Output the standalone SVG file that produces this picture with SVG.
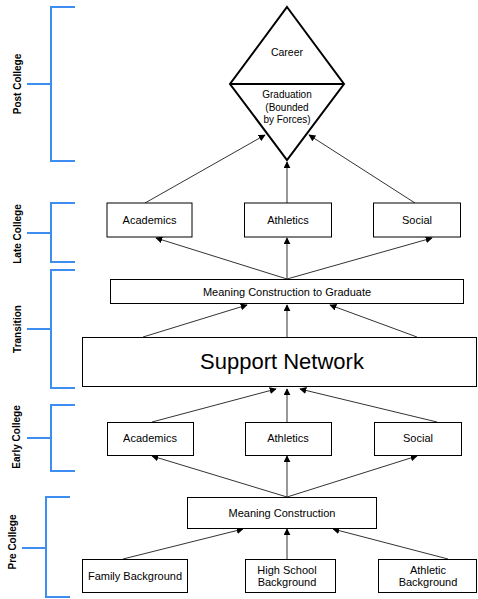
<svg xmlns="http://www.w3.org/2000/svg" width="478" height="599" viewBox="0 0 478 599">
<style>
.box{fill:#fff;stroke:#000;stroke-width:1}
.t{font-family:"Liberation Sans",Arial,sans-serif;font-size:11px;fill:#000;text-anchor:middle}
.br{fill:none;stroke:#3d8ef0;stroke-width:2}
.lbl{font-family:"Liberation Sans",Arial,sans-serif;font-size:10px;font-weight:bold;fill:#000;text-anchor:middle}
.c{stroke:#333;stroke-width:1;fill:none;marker-end:url(#ah)}
</style>
<defs>
<marker id="ah" viewBox="0 0 10 10" refX="9" refY="5" markerWidth="7" markerHeight="7" markerUnits="userSpaceOnUse" orient="auto">
<path d="M0,0 L10,5 L0,10 z" fill="#000"/>
</marker>
</defs>
<rect width="478" height="599" fill="#fff"/>
<g id="brackets">
<path class="br" d="M75,7 H51 V161 H75 M27,84 H51"/>
<path class="br" d="M75,203 H51 V262 H75 M27,233 H51"/>
<path class="br" d="M75,270 H51 V388 H75 M27,329 H51"/>
<path class="br" d="M75,405 H51 V471 H75 M27,438 H51"/>
<path class="br" d="M70,497 H46 V597 H70 M22,548 H46"/>
<text class="lbl" transform="translate(21,84) rotate(-90)">Post College</text>
<text class="lbl" transform="translate(21,234) rotate(-90)">Late College</text>
<text class="lbl" transform="translate(21,329) rotate(-90)">Transition</text>
<text class="lbl" transform="translate(20,437) rotate(-90)">Early College</text>
<text class="lbl" transform="translate(16,542) rotate(-90)">Pre College</text>
</g>
<g id="connectors">
<line class="c" x1="145" y1="203" x2="265" y2="135"/>
<line class="c" x1="287" y1="203" x2="287" y2="162"/>
<line class="c" x1="415" y1="203" x2="309" y2="135"/>
<line class="c" x1="287" y1="279" x2="156" y2="238"/>
<line class="c" x1="287" y1="279" x2="287" y2="238"/>
<line class="c" x1="287" y1="279" x2="432" y2="238"/>
<line class="c" x1="143" y1="337" x2="247" y2="305"/>
<line class="c" x1="287" y1="337" x2="287" y2="305"/>
<line class="c" x1="417" y1="337" x2="330" y2="305"/>
<line class="c" x1="152" y1="422" x2="276" y2="389"/>
<line class="c" x1="287" y1="422" x2="287" y2="389"/>
<line class="c" x1="437" y1="422" x2="300" y2="389"/>
<line class="c" x1="287" y1="497" x2="152" y2="456"/>
<line class="c" x1="287" y1="497" x2="287" y2="456"/>
<line class="c" x1="287" y1="497" x2="417" y2="456"/>
<line class="c" x1="123" y1="559" x2="243" y2="529"/>
<line class="c" x1="287" y1="559" x2="287" y2="529"/>
<line class="c" x1="448" y1="559" x2="333" y2="529"/>
</g>
<g id="diamond">
<path d="M287,7 L344,84 L287,160 L230,84 Z" fill="#fff" stroke="#000" stroke-width="2" stroke-linejoin="miter"/>
<line x1="230" y1="84" x2="344" y2="84" stroke="#000" stroke-width="2"/>
<text class="t" x="287" y="56" style="font-size:10.5px">Career</text>
<text class="t" x="287" y="98" style="font-size:10px">Graduation</text>
<text class="t" x="287" y="111" style="font-size:10px">(Bounded</text>
<text class="t" x="287" y="123" style="font-size:10px">by Forces)</text>
</g>
<g id="late-academics"><rect class="box" x="107" y="203" width="85" height="34"/><text class="t" x="149.5" y="224">Academics</text></g>
<g id="late-athletics"><rect class="box" x="244.5" y="203" width="87" height="34"/><text class="t" x="288" y="224">Athletics</text></g>
<g id="late-social"><rect class="box" x="373.5" y="203" width="87" height="34"/><text class="t" x="417" y="224">Social</text></g>
<g id="meaning-graduate"><rect class="box" x="110.5" y="279.5" width="353" height="24"/><text class="t" x="287" y="295.5">Meaning Construction to Graduate</text></g>
<g id="support-network"><rect class="box" x="82.5" y="337.5" width="394" height="49"/><text class="t" x="282" y="369" style="font-size:22px">Support Network</text></g>
<g id="early-academics"><rect class="box" x="107.5" y="422.5" width="86" height="33"/><text class="t" x="150" y="442">Academics</text></g>
<g id="early-athletics"><rect class="box" x="245.5" y="422.5" width="86" height="33"/><text class="t" x="288" y="442">Athletics</text></g>
<g id="early-social"><rect class="box" x="374.5" y="422.5" width="87" height="33"/><text class="t" x="418" y="442">Social</text></g>
<g id="meaning-construction"><rect class="box" x="187.5" y="497.5" width="189" height="31"/><text class="t" x="282" y="517">Meaning Construction</text></g>
<g id="family-background"><rect class="box" x="82.5" y="559.5" width="105" height="33"/><text class="t" x="135" y="580">Family Background</text></g>
<g id="high-school-background"><rect class="box" x="245.5" y="559.5" width="90" height="33"/><text class="t" x="287" y="574">High School</text><text class="t" x="287" y="586">Background</text></g>
<g id="athletic-background"><rect class="box" x="378.5" y="559.5" width="98" height="33"/><text class="t" x="428" y="574">Athletic</text><text class="t" x="428" y="586">Background</text></g>
</svg>
